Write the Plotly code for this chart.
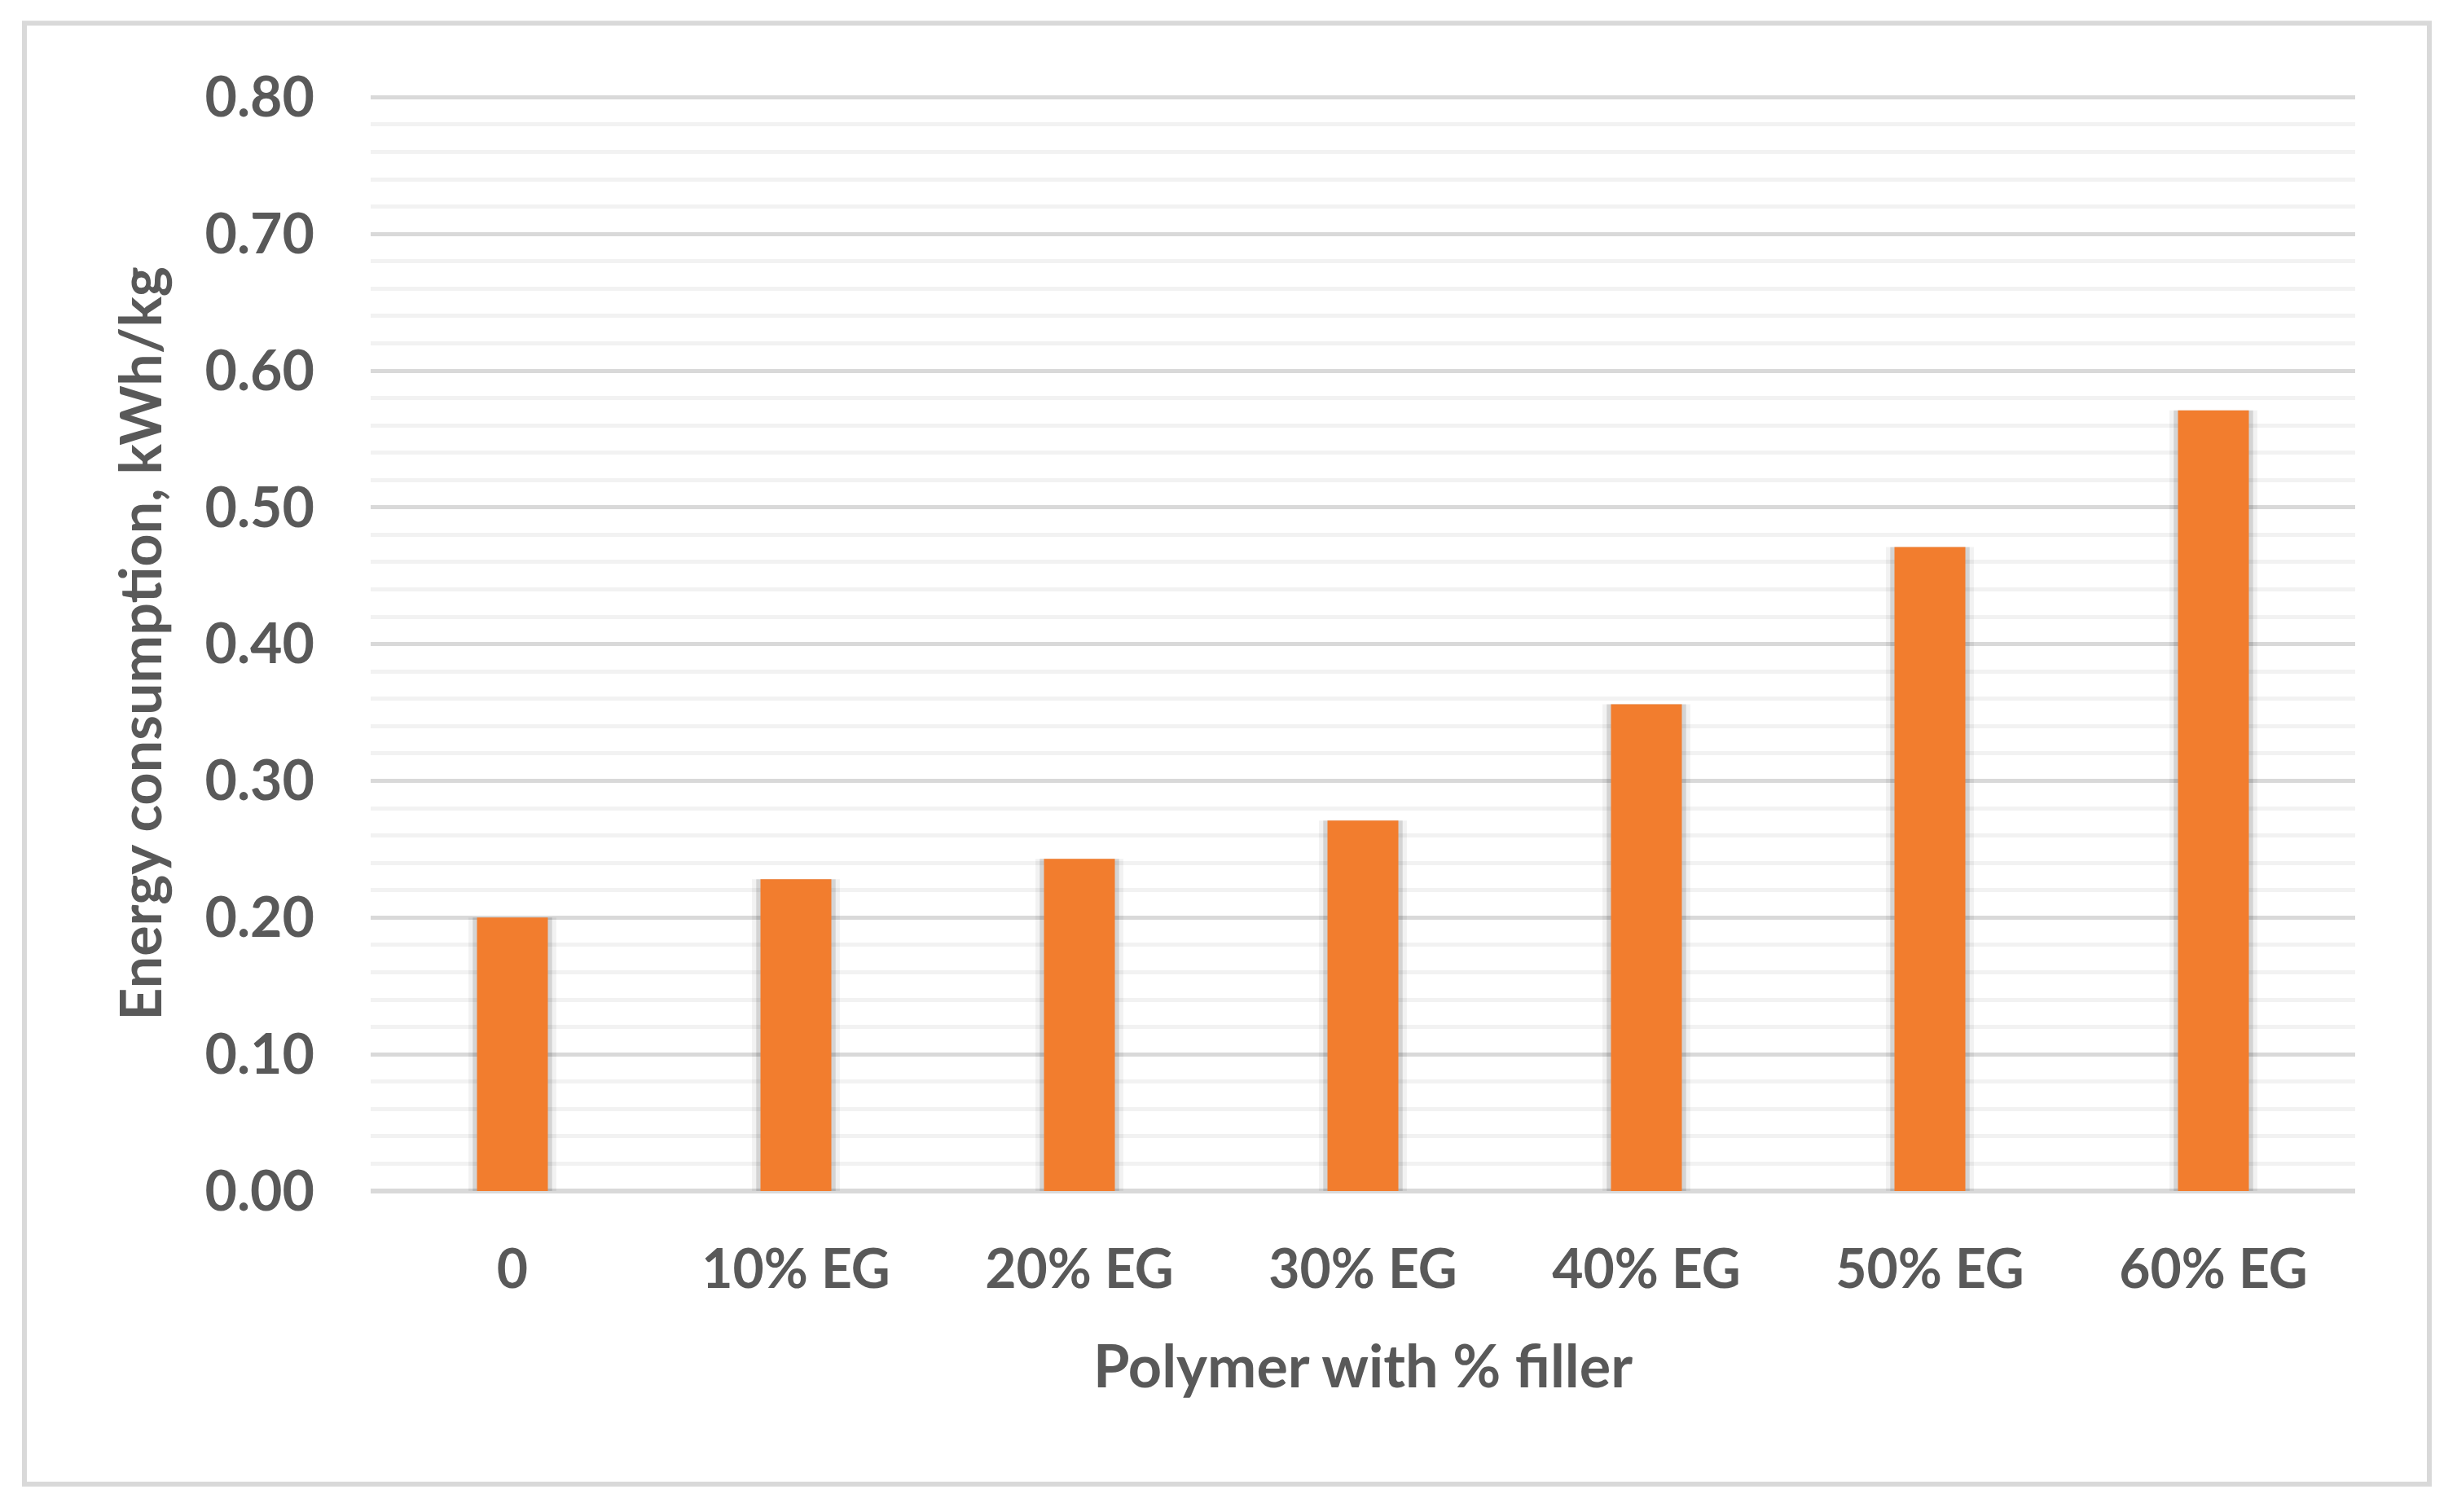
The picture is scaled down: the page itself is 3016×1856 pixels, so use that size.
import plotly.graph_objects as go

# data
categories = ['0', '10% EG', '20% EG', '30% EG', '40% EG', '50% EG', '60% EG']
energy_kwh_per_kg = [0.200, 0.228, 0.243, 0.271, 0.356, 0.471, 0.571]

y_ticks = [0.0, 0.1, 0.2, 0.3, 0.4, 0.5, 0.6, 0.7, 0.8]
y_tick_labels = ['0.00', '0.10', '0.20', '0.30', '0.40', '0.50', '0.60', '0.70', '0.80']

x_title = 'Polymer with % filler'
y_title = 'Energy consumption, kWh/kg'

text_grey = '#595959'
font_name = 'Lato'

fig = go.Figure()

# soft shadow behind the bars
fig.add_trace(go.Bar(
    x=categories, y=energy_kwh_per_kg,
    width=0.31,
    marker=dict(color='rgba(0,0,0,0.05)', line=dict(width=0)),
    hoverinfo='skip', showlegend=False,
))
fig.add_trace(go.Bar(
    x=categories, y=energy_kwh_per_kg,
    width=0.28,
    marker=dict(color='rgba(0,0,0,0.12)', line=dict(width=0)),
    hoverinfo='skip', showlegend=False,
))

# the bars
fig.add_trace(go.Bar(
    x=categories, y=energy_kwh_per_kg,
    width=0.25,
    marker=dict(color='#F27D2E', line=dict(width=0)),
    name='Energy consumption',
    showlegend=False,
))

# plot area in pixels: x 455..2891, y ~118..1462.5 (range a hair above 0.80 so its gridline shows)
y_max = 0.8008
pw, ph = 2436, 1344.5
fig.update_layout(
    width=3016, height=1856,
    margin=dict(l=455, r=125, t=118, b=394, pad=0),
    paper_bgcolor='white',
    plot_bgcolor='white',
    barmode='overlay',
    font=dict(family=font_name, color=text_grey, size=64, weight='bold'),
    showlegend=False,
    shapes=[dict(
        type='rect', xref='paper', yref='paper',
        x0=(30 - 455) / pw, x1=(2982 - 455) / pw,
        y0=(1462 - 1822) / ph, y1=(1462 - 28) / ph,
        line=dict(color='#D9D9D9', width=6),
        fillcolor='rgba(0,0,0,0)',
        layer='below',
    )],
)

# x axis
fig.update_xaxes(
    showgrid=False,
    showline=False,
    zeroline=False,
    ticks='',
    ticklabelstandoff=52,
    tickfont=dict(family=font_name, size=66, color=text_grey, weight='bold'),
    title=dict(text=x_title, standoff=58,
               font=dict(family=font_name, size=72, color=text_grey, weight='bold')),
)

# y axis
fig.update_yaxes(
    range=[0, y_max],
    tickvals=y_ticks,
    ticktext=y_tick_labels,
    ticks='',
    ticklabelstandoff=68,
    tickfont=dict(family=font_name, size=68, color=text_grey, weight='bold'),
    showgrid=True, gridcolor='#D9D9D9', gridwidth=5,
    minor=dict(dtick=0.02, showgrid=True, gridcolor='#F2F2F2', gridwidth=5),
    zeroline=True, zerolinecolor='#D9D9D9', zerolinewidth=6,
    showline=False,
    title=dict(text=y_title, standoff=30,
               font=dict(family=font_name, size=70, color=text_grey, weight='bold')),
)

fig.write_html("out.html", config={'displayModeBar': False},
               post_script="document.body.style.margin='0';")
